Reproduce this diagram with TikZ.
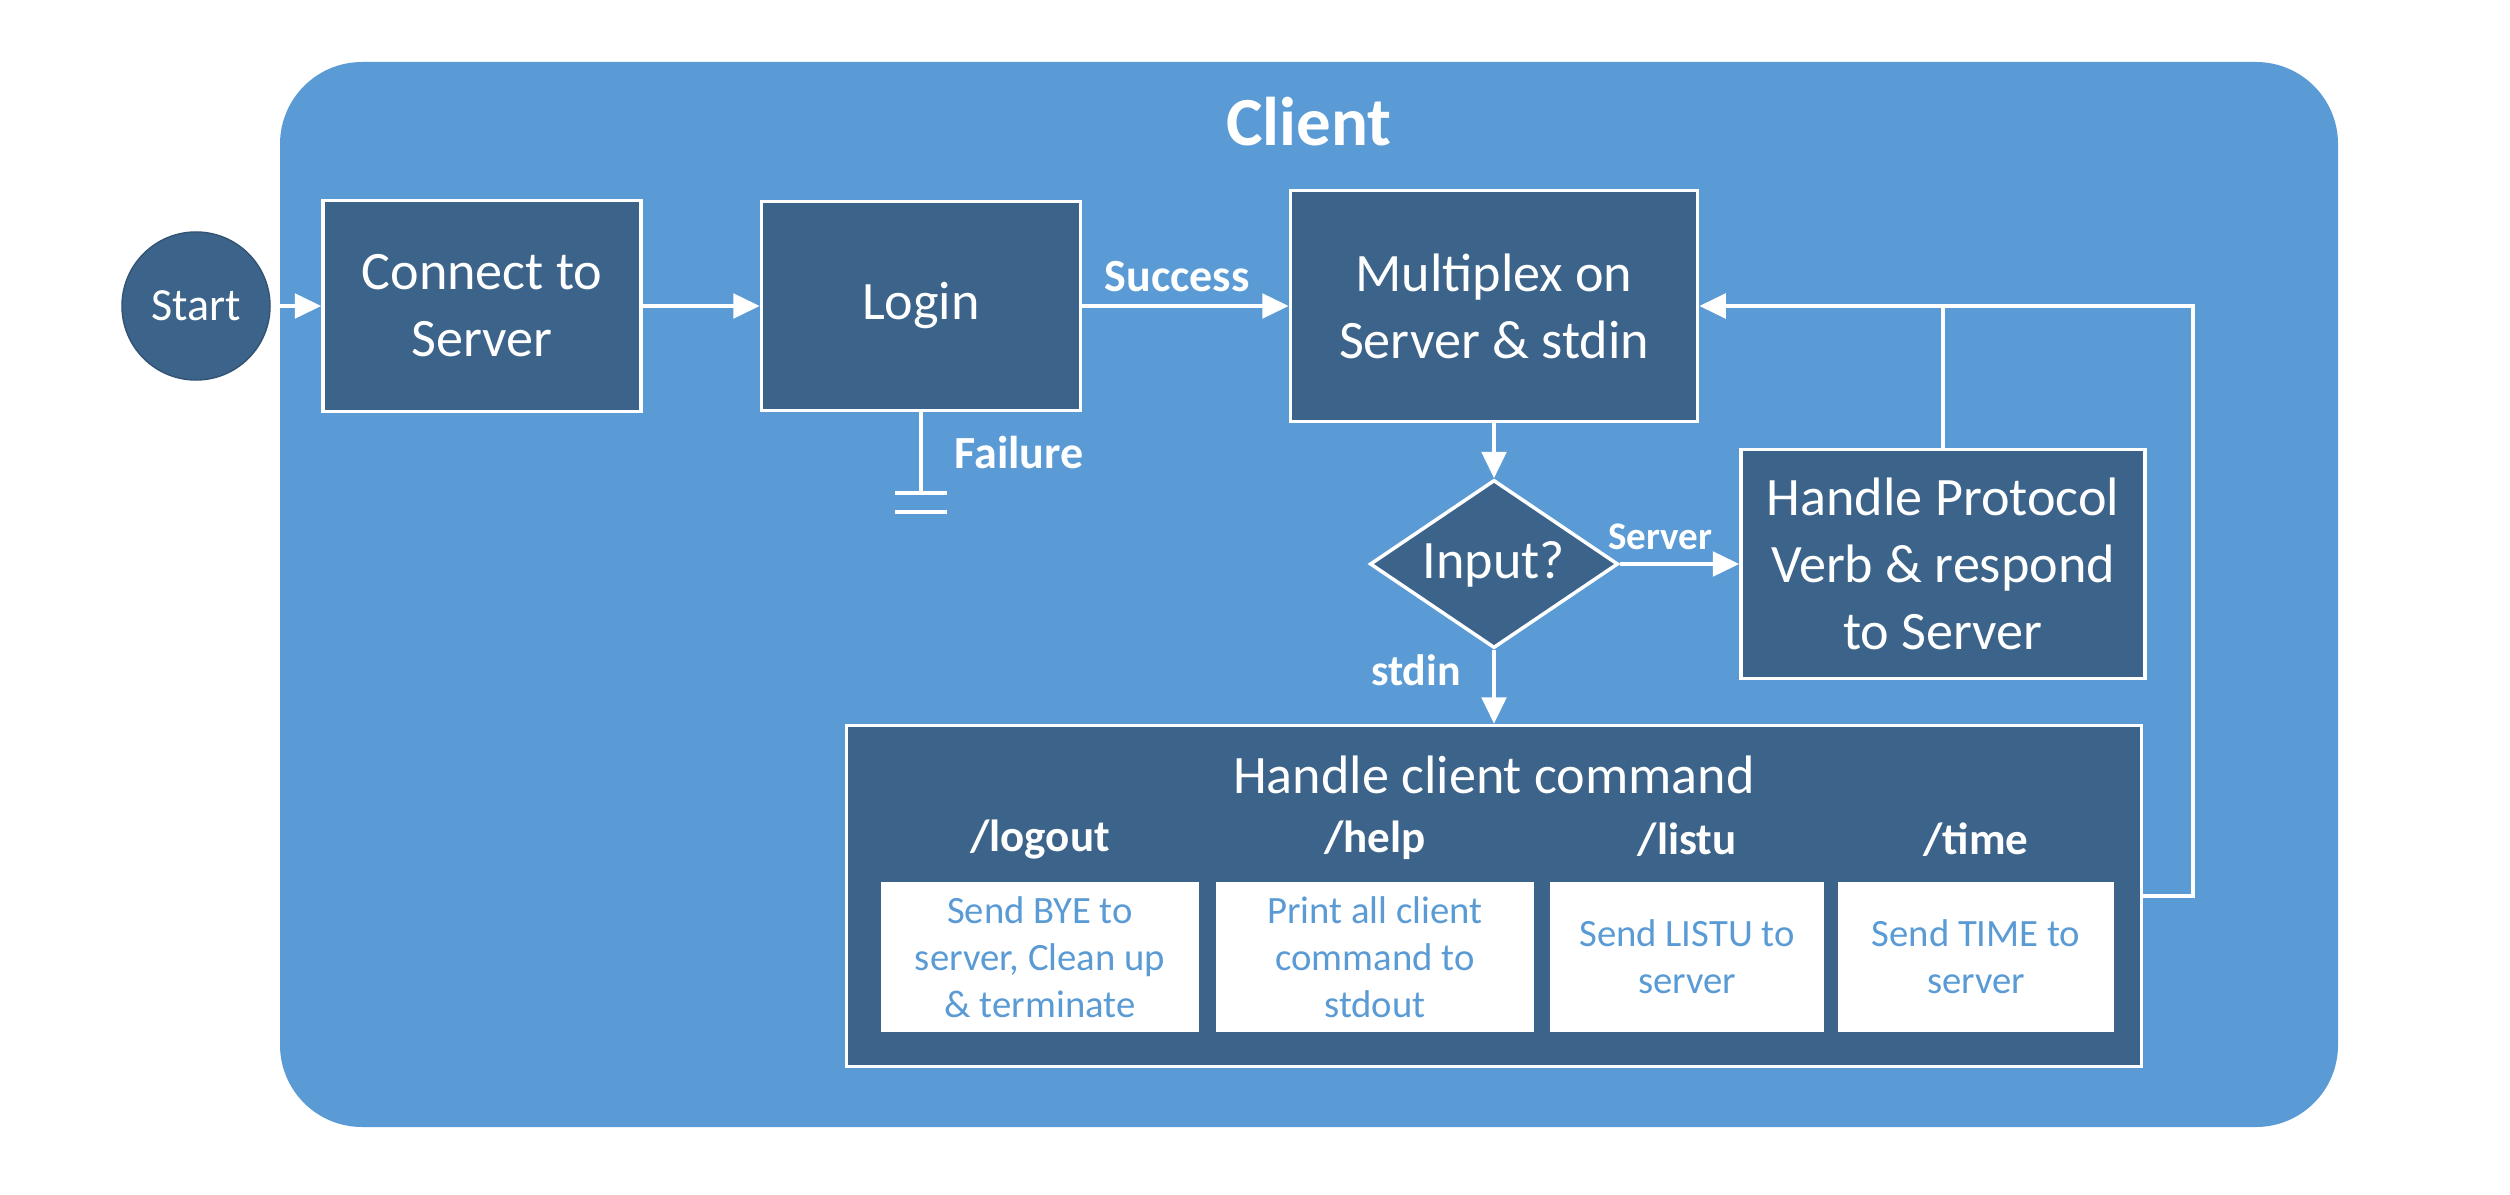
\documentclass[tikz,border=0pt]{standalone}
\usepackage{fontspec}
\setmainfont{Carlito}
\usetikzlibrary{shapes.geometric,arrows.meta}
\definecolor{clientblue}{RGB}{91,155,213}
\definecolor{boxblue}{RGB}{60,99,137}
\tikzset{flow/.style={x=0.01cm,y=-0.01cm},
  box/.style={draw=white,line width=1pt,fill=boxblue,text=white,align=center,
    inner sep=0pt,font=\fontsize{15.4}{19.1}\selectfont},
  lbl/.style={text=white,inner sep=0pt,font=\bfseries\fontsize{13.1}{15}\selectfont},
  wire/.style={draw=white,line width=1pt},
  arr/.style={wire,-{Triangle[length=7.5pt,width=7pt]}}}

\begin{document}
\begin{tikzpicture}[flow]
    \useasboundingbox (0,0) rectangle (2510,1194);
    \fill[clientblue,rounded corners=0.82cm] (280,62) rectangle (2338,1127);
    \node[text=white,font=\bfseries\fontsize{19.6}{23}\selectfont] (client) at (1309,122) {Client};
    \node[circle,fill=boxblue,draw=boxblue!85!black,text=white,minimum size=1.48cm,inner sep=0pt,
      font=\fontsize{13.1}{15}\selectfont] (start) at (196,306) {Start};
    \node[box,minimum width=3.18cm,minimum height=2.11cm] (connect) at (482,306) {Connect to\\Server};
    \node[box,minimum width=3.19cm,minimum height=2.09cm] (login) at (921,306) {Login};
    \node[box,minimum width=4.07cm,minimum height=2.31cm] (mux) at (1494,306) {Multiplex on\\Server \& stdin};
    \node[box,diamond,aspect=1.476,minimum width=2.48cm,minimum height=1.68cm] (input) at (1494,564) {Input?};
    \node[box,minimum width=4.04cm,minimum height=2.29cm] (proto) at (1943,564) {Handle Protocol\\Verb \& respond\\to Server};
    \node[box,minimum width=12.94cm,minimum height=3.41cm] (cmd) at (1494,896) {};
    \node[text=white,font=\fontsize{15.4}{19.1}\selectfont] (cmdtitle) at (1494,775) {Handle client command};
    \foreach \x/\w/\cname/\ctext [count=\i] in {1040/3.17/logout/{Send BYE to\\server, Clean up\\\& terminate},
        1375/3.17/help/{Print all client\\command to\\stdout}, 1687/2.73/listu/{Send LISTU to\\server},
        1976/2.75/time/{Send TIME to\\server}} {
      \node[lbl,font=\bfseries\fontsize{12.8}{15}\selectfont] (cmdname\i) at (\x,840) {/\cname};
      \node[fill=white,text=clientblue,align=center,minimum width=\w cm,minimum height=1.49cm,inner sep=0pt,
        font=\fontsize{11}{13.4}\selectfont] (cmdtext\i) at (\x,957) {\ctext};
    }
    \node[lbl] (success) at (1177,277) {Success};
    \node[lbl] (failure) at (1019,453) {Failure};
    \node[lbl,font=\bfseries\fontsize{11.1}{13}\selectfont] (server) at (1660,537) {Server};
    \node[lbl,font=\bfseries\fontsize{12.5}{14}\selectfont] (stdin) at (1416,670) {stdin};
    \draw[arr] (start) -- (connect);
    \draw[arr] (connect) -- (login);
    \draw[arr] (login) -- (mux);
    \draw[arr] (mux) -- (input);
    \draw[arr] (input) -- (proto);
    \draw[arr] (input.south) -- (cmd.north);
    % failure ends in a ground
    \coordinate (gnd) at (921,493);
    \draw[wire] (login.south) -- (gnd);
    \draw[wire] ([xshift=-0.26cm]gnd) -- ([xshift=0.26cm]gnd);
    \draw[wire] ([shift={(-0.26cm,-0.19cm)}]gnd) -- ([shift={(0.26cm,-0.19cm)}]gnd);
    % loop back to the multiplexer
    \coordinate (loopb) at (2193,896);
    \coordinate (loopt) at (2193,306);
    \draw[arr] (cmd.east) -- (loopb) -- (loopt) -- (mux.east);
    \draw[wire] (proto.north) -- (proto.north |- loopt);
\end{tikzpicture}
\end{document}
